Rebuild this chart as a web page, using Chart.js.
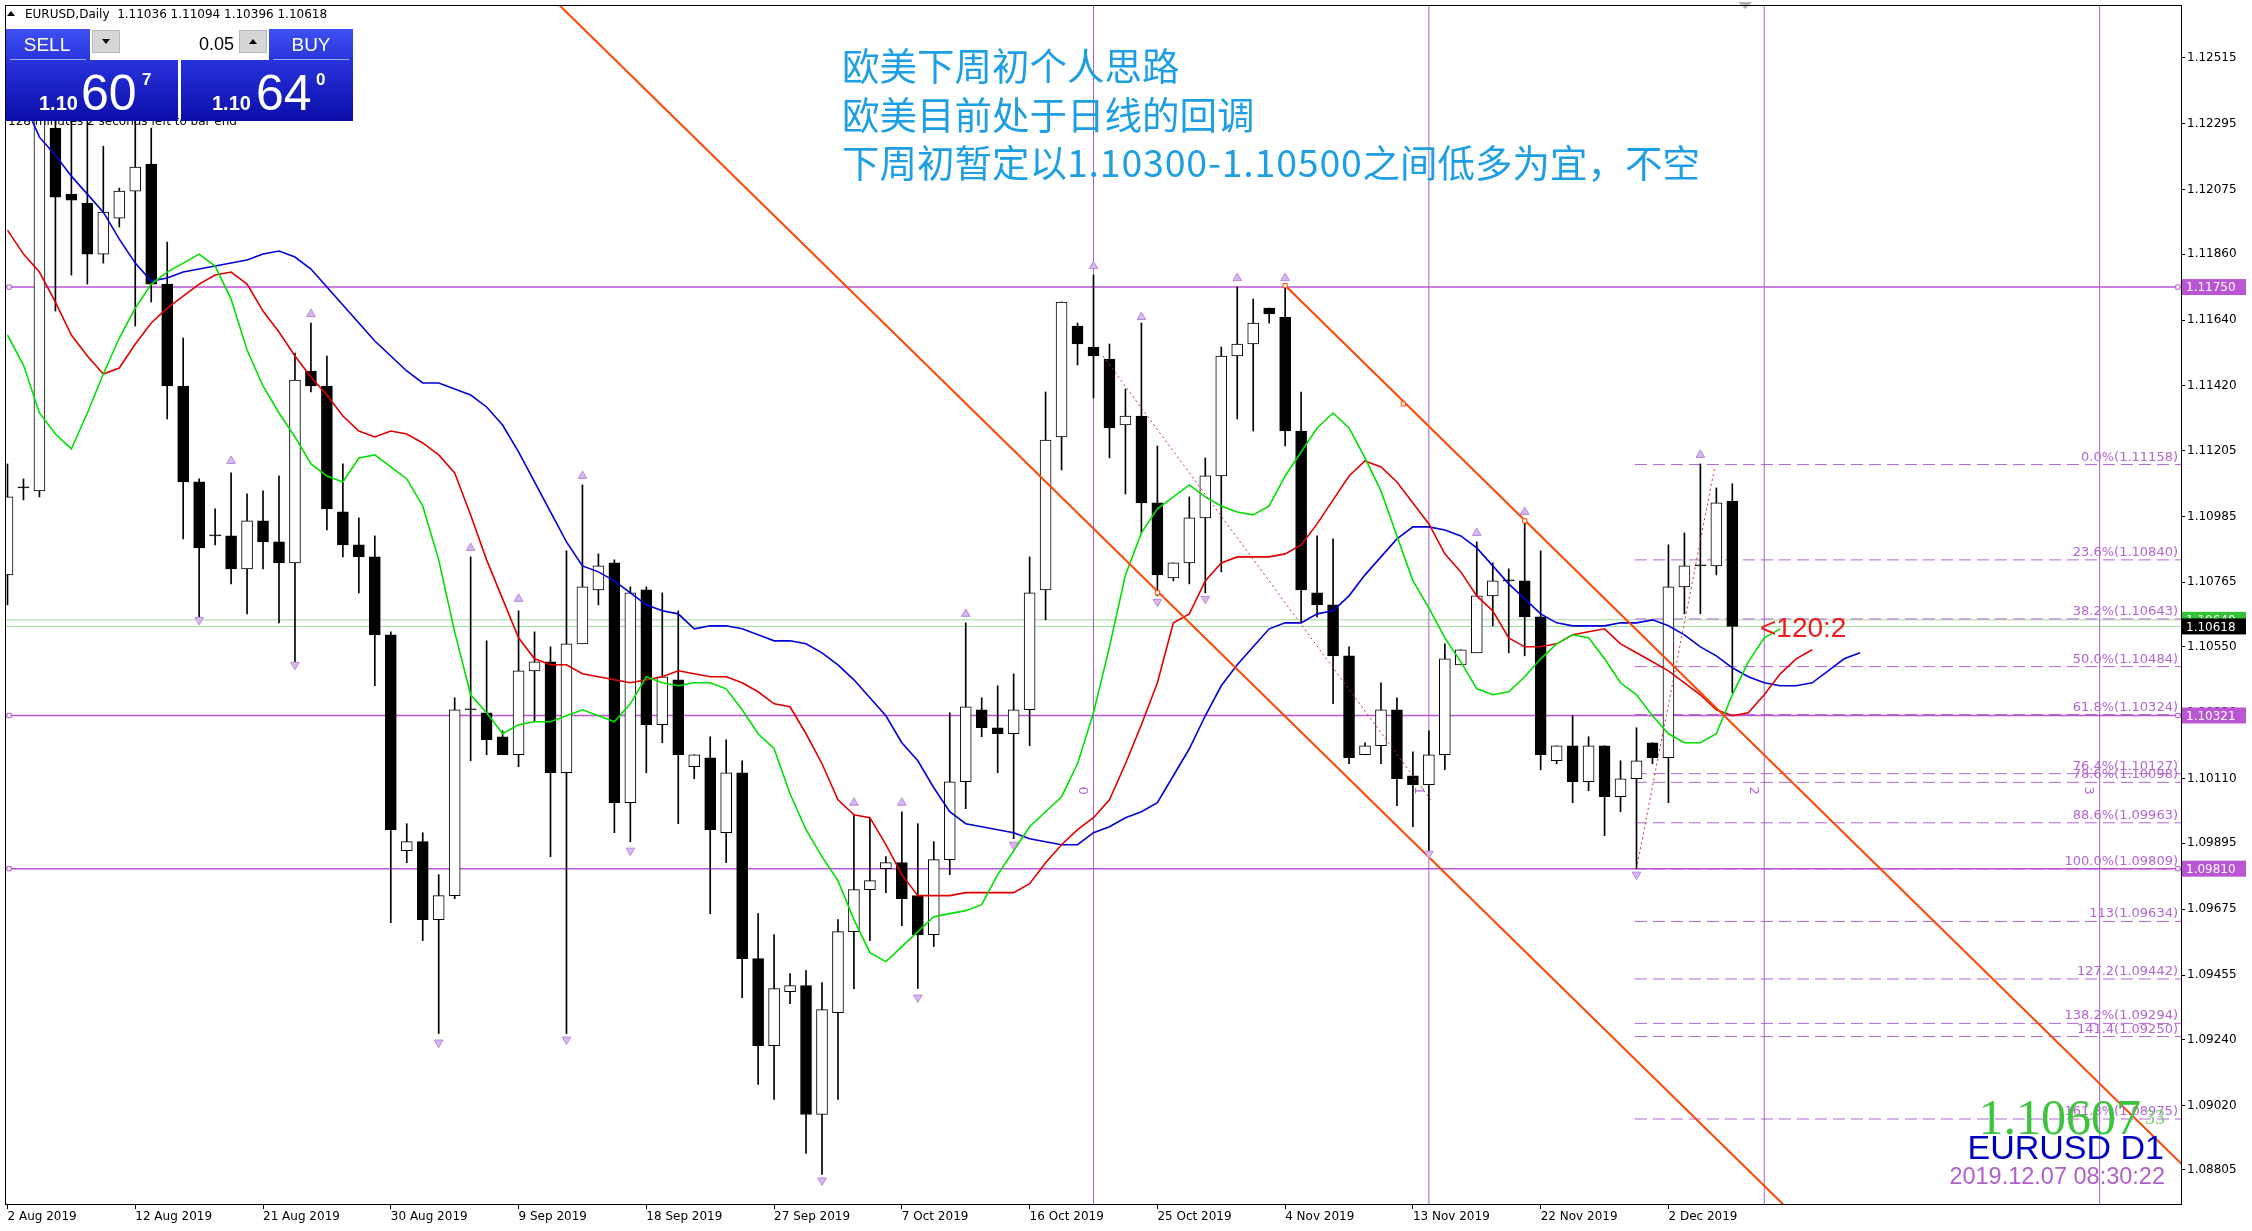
<!DOCTYPE html>
<html>
<head>
<meta charset="utf-8">
<script src="https://cdn.jsdelivr.net/npm/chart.js@4.4.0/dist/chart.umd.min.js"></script>
<style>
  html, body { margin: 0; padding: 0; background: #fff; overflow: hidden; }
  #wrap { width: 2252px; height: 1231px; }
</style>
</head>
<body>
<div id="wrap"><canvas id="chart" width="2252" height="1231"></canvas></div>
<script>
// ---- data (bar index 0 = 2 Aug 2019, incl. Sunday bars) ----
const X_TICKS = [0, 8, 16, 24, 32, 40, 48, 56, 64, 72, 80, 88, 96, 104];
const X_LABELS = ['2 Aug 2019', '12 Aug 2019', '21 Aug 2019', '30 Aug 2019', '9 Sep 2019', '18 Sep 2019',
  '27 Sep 2019', '7 Oct 2019', '16 Oct 2019', '25 Oct 2019', '4 Nov 2019', '13 Nov 2019', '22 Nov 2019', '2 Dec 2019'];
const Y_TICKS = [1.12515, 1.12295, 1.12075, 1.11860, 1.11640, 1.11420, 1.11205, 1.10985, 1.10765, 1.10550,
  1.10330, 1.10110, 1.09895, 1.09675, 1.09455, 1.09240, 1.09020, 1.08805];

const OPEN = [
  1.1079, 1.1108, 1.1107, 1.1228, 1.1206, 1.1203, 1.1186, 1.1198, 1.1207, 1.1216,
  1.1176, 1.1142, 1.1110, 1.1092, 1.1092, 1.1081, 1.1097, 1.1090, 1.1083, 1.1147,
  1.1142, 1.1100, 1.1089, 1.1085, 1.1059, 1.0987, 1.0990, 1.0964, 1.0972, 1.1034,
  1.1033, 1.1025, 1.1019, 1.1047, 1.1050, 1.1013, 1.1056, 1.1074, 1.1083, 1.1003,
  1.1074, 1.1029, 1.1044, 1.1015, 1.1018, 1.0993, 1.1013, 1.0951, 1.0922, 1.0940,
  1.0942, 1.0899, 1.0933, 1.0960, 1.0974, 1.0981, 1.0983, 1.0972, 1.0959, 1.0984,
  1.1010, 1.1034, 1.1028, 1.1026, 1.1034, 1.1074, 1.1125, 1.1162, 1.1155, 1.1151,
  1.1129, 1.1132, 1.1103, 1.1078, 1.1083, 1.1098, 1.1112, 1.1152, 1.1156, 1.1168,
  1.1165, 1.1127, 1.1073, 1.1069, 1.1052, 1.1019, 1.1022, 1.1034, 1.1012, 1.1009,
  1.1019, 1.1049, 1.1053, 1.1072, 1.1077, 1.1077, 1.1065, 1.1017, 1.1022, 1.1010,
  1.1022, 1.1005, 1.1011, 1.1023, 1.1018, 1.1075, 1.1082, 1.1082, 1.11036
];
const HIGH = [
  1.1116, 1.1111, 1.1250, 1.1245, 1.1240, 1.1232, 1.1222, 1.1208, 1.1232, 1.1228,
  1.1190, 1.1158, 1.1111, 1.1101, 1.1113, 1.1106, 1.1107, 1.1112, 1.1153, 1.1163,
  1.1152, 1.1116, 1.1098, 1.1092, 1.1060, 1.0996, 1.0993, 1.0979, 1.1038, 1.1085,
  1.1057, 1.1027, 1.1067, 1.1060, 1.1055, 1.1087, 1.1109, 1.1086, 1.1084, 1.1075,
  1.1075, 1.1073, 1.1067, 1.1019, 1.1025, 1.1024, 1.1017, 1.0966, 1.0959, 1.0946,
  1.0947, 1.0943, 1.0964, 1.0999, 1.0998, 1.0985, 1.1000, 1.0996, 1.0990, 1.1033,
  1.1063, 1.1038, 1.1042, 1.1046, 1.1085, 1.1140, 1.1170, 1.1163, 1.1179, 1.1156,
  1.1141, 1.1163, 1.1122, 1.1083, 1.1105, 1.1118, 1.1155, 1.1175, 1.1171, 1.1168,
  1.1176, 1.1140, 1.1092, 1.1091, 1.1055, 1.1023, 1.1043, 1.1038, 1.1020, 1.1027,
  1.1056, 1.1054, 1.1090, 1.1083, 1.1081, 1.1097, 1.1087, 1.1022, 1.1032, 1.1025,
  1.1022, 1.1017, 1.1028, 1.1023, 1.1089, 1.1093, 1.1116, 1.1108, 1.11094
];
const LOW = [
  1.1069, 1.1104, 1.1105, 1.1167, 1.1179, 1.1176, 1.1183, 1.1195, 1.1162, 1.1170,
  1.1131, 1.1091, 1.1063, 1.1089, 1.1076, 1.1066, 1.1081, 1.1063, 1.1050, 1.1140,
  1.1094, 1.1085, 1.1073, 1.1042, 1.0963, 1.0983, 1.0957, 1.0926, 1.0971, 1.1017,
  1.1019, 1.1019, 1.1015, 1.1030, 1.0985, 1.0926, 1.1056, 1.1069, 1.0993, 1.0990,
  1.1013, 1.1023, 1.0996, 1.1011, 1.0966, 1.0983, 1.0938, 1.0909, 1.0904, 1.0936,
  1.0886, 1.0879, 1.0904, 1.0941, 1.0957, 1.0973, 1.0962, 1.0941, 1.0955, 1.0979,
  1.1001, 1.1025, 1.1013, 1.0991, 1.1022, 1.1064, 1.1114, 1.1149, 1.1138, 1.1118,
  1.1106, 1.1093, 1.1072, 1.1077, 1.1076, 1.1073, 1.1080, 1.1131, 1.1127, 1.1163,
  1.1122, 1.1063, 1.1065, 1.1036, 1.1016, 1.1019, 1.1016, 1.1002, 1.0995, 1.0987,
  1.1014, 1.1049, 1.1053, 1.1062, 1.1053, 1.1052, 1.1014, 1.1016, 1.1003, 1.1007,
  1.0992, 1.1000, 1.0981, 1.1016, 1.1003, 1.1066, 1.1066, 1.1079, 1.10396
];
const CLOSE = [
  1.1105, 1.1108, 1.1232, 1.1205, 1.1204, 1.1186, 1.1200, 1.1207, 1.1215, 1.1176,
  1.1142, 1.1110, 1.1088, 1.1092, 1.1081, 1.1097, 1.1090, 1.1083, 1.1144, 1.1142,
  1.1101, 1.1089, 1.1085, 1.1059, 1.0994, 1.0990, 1.0964, 1.0972, 1.1034, 1.1034,
  1.1024, 1.1019, 1.1047, 1.1050, 1.1013, 1.1056, 1.1075, 1.1082, 1.1003, 1.1073,
  1.1029, 1.1045, 1.1019, 1.1019, 1.0994, 1.1013, 1.0951, 1.0922, 1.0941, 1.0942,
  1.0899, 1.0934, 1.0960, 1.0974, 1.0977, 1.0983, 1.0971, 1.0959, 1.0984, 1.1010,
  1.1035, 1.1028, 1.1026, 1.1034, 1.1073, 1.1124, 1.1170, 1.1156, 1.1152, 1.1128,
  1.1132, 1.1103, 1.1079, 1.1083, 1.1098, 1.1112, 1.1152, 1.1156, 1.1163, 1.1166,
  1.1127, 1.1074, 1.1069, 1.1052, 1.1018, 1.1022, 1.1034, 1.1011, 1.1009, 1.1019,
  1.1051, 1.1054, 1.1072, 1.1077, 1.1077, 1.1065, 1.1019, 1.1022, 1.1010, 1.1022,
  1.1005, 1.1011, 1.1017, 1.1018, 1.1075, 1.1082, 1.1082, 1.1103, 1.10618
];

// Alligator lines (already shifted forward: lips +3, teeth +5, jaw +8 bars)
const LIPS = [
  1.1159, 1.1149, 1.1133, 1.1126, 1.1121, 1.1133, 1.1146, 1.1158, 1.1168, 1.1176,
  1.1180, 1.1183, 1.1186, 1.1182, 1.1171, 1.1154, 1.1142, 1.1133, 1.1125, 1.1116,
  1.1112, 1.1110, 1.1118, 1.1119, 1.1115, 1.1111, 1.1102, 1.1084, 1.1060, 1.1039,
  1.1033, 1.1026, 1.1029, 1.1030, 1.1030, 1.1032, 1.1034, 1.1032, 1.1030, 1.1036,
  1.1045, 1.1043, 1.1042, 1.1043, 1.1043, 1.1041, 1.1034, 1.1026, 1.1021, 1.1006,
  1.0994, 1.0985, 1.0977, 1.0964, 1.0953, 1.0950, 1.0955, 1.0960, 1.0965, 1.0966,
  1.0967, 1.0969, 1.0979, 1.0987, 1.0995, 1.1000, 1.1005, 1.1016, 1.1033, 1.1055,
  1.1079, 1.1093, 1.1101, 1.1105, 1.1109, 1.1105, 1.1102, 1.1100, 1.1099, 1.1102,
  1.1112, 1.1120, 1.1128, 1.1133, 1.1128, 1.1118, 1.1107, 1.1092, 1.1077, 1.1068,
  1.1058, 1.1050, 1.1041, 1.1039, 1.1040, 1.1045, 1.1051, 1.1056, 1.1059, 1.1058,
  1.1051, 1.1043, 1.1039, 1.1032, 1.1026, 1.1023, 1.1023, 1.1026, 1.1039, 1.1050,
  1.1058, 1.1061
];
const TEETH = [
  1.1194, 1.1186, 1.1180, 1.1170, 1.1159, 1.1152, 1.1146, 1.1148, 1.1156, 1.1163,
  1.1168, 1.1172, 1.1176, 1.1179, 1.1180, 1.1176, 1.1167, 1.1160, 1.1152, 1.1145,
  1.1139, 1.1132, 1.1127, 1.1125, 1.1127, 1.1126, 1.1123, 1.1119, 1.1113, 1.1099,
  1.1084, 1.1071, 1.1058, 1.1051, 1.1049, 1.1049, 1.1046, 1.1045, 1.1044, 1.1043,
  1.1044, 1.1045, 1.1047, 1.1046, 1.1045, 1.1045, 1.1043, 1.1040, 1.1036, 1.1035,
  1.1026, 1.1016, 1.1004, 1.0999, 1.0998, 1.0989, 1.0979, 1.0972, 1.0972, 1.0972,
  1.0973, 1.0973, 1.0973, 1.0973, 1.0976, 1.0983, 1.0989, 1.0994, 1.0998, 1.1004,
  1.1016, 1.1029, 1.1043, 1.1063, 1.1066, 1.1077, 1.1083, 1.1085, 1.1085, 1.1085,
  1.1086, 1.1089, 1.1096, 1.1104, 1.1112, 1.1117, 1.1115, 1.1110, 1.1103, 1.1096,
  1.1086, 1.1080, 1.1072, 1.1067, 1.1058, 1.1055, 1.1055, 1.1056, 1.1059, 1.1060,
  1.1061, 1.1056, 1.1053, 1.1050, 1.1047, 1.1043, 1.1039, 1.1034, 1.1032, 1.1033,
  1.1039, 1.1046, 1.1051, 1.1054
];
const JAW = [
  1.1245, 1.1237, 1.1225, 1.1219, 1.1212, 1.1206, 1.1200, 1.1191, 1.1183, 1.1177,
  1.1178, 1.1180, 1.1181, 1.1182, 1.1183, 1.1184, 1.1186, 1.1187, 1.1185, 1.1181,
  1.1175, 1.1169, 1.1163, 1.1157, 1.1152, 1.1147, 1.1143, 1.1143, 1.1141, 1.1139,
  1.1135, 1.1129, 1.1120, 1.1110, 1.1100, 1.1090, 1.1082, 1.1080, 1.1077, 1.1073,
  1.1069, 1.1067, 1.1066, 1.1061, 1.1062, 1.1062, 1.1061, 1.1059, 1.1057, 1.1057,
  1.1056, 1.1053, 1.1049, 1.1044, 1.1038, 1.1032, 1.1023, 1.1017, 1.1008, 1.1000,
  1.0996, 1.0995, 1.0994, 1.0993, 1.0991, 1.0990, 1.0989, 1.0989, 1.0993, 1.0995,
  1.0998, 1.1000, 1.1003, 1.1012, 1.1021, 1.1032, 1.1042, 1.1049, 1.1055, 1.1061,
  1.1063, 1.1063, 1.1066, 1.1067, 1.1072, 1.1079, 1.1085, 1.1091, 1.1095, 1.1095,
  1.1094, 1.1092, 1.1088, 1.1082, 1.1076, 1.1071, 1.1066, 1.1063, 1.1062, 1.1062,
  1.1062, 1.1063, 1.1063, 1.1064, 1.1062, 1.1059, 1.1055, 1.1052, 1.1048, 1.1045,
  1.1043, 1.1042, 1.1042, 1.1043, 1.1047, 1.1051, 1.1053
];

// fractal arrows
const UP_IDX = [14, 19, 29, 32, 36, 53, 56, 60, 68, 71, 77, 80, 92, 95, 106];
const UP_Y = [1.1117, 1.1166, 1.1088, 1.1071, 1.1112, 1.1003, 1.1003, 1.1066, 1.1182, 1.1165, 1.1178, 1.1178, 1.1093, 1.1100, 1.1119];
const DOWN_IDX = [12, 18, 27, 35, 39, 51, 57, 63, 72, 75, 89, 102];
const DOWN_Y = [1.1064, 1.1049, 1.0923, 1.0924, 1.0987, 1.0877, 1.0938, 1.0989, 1.1070, 1.1071, 1.0986, 1.0979];

// drawn objects
const H_LEVELS = [1.11750, 1.10321, 1.09810];
const BID = 1.10618;
const ASK = 1.10640;
const V_LINES = [68, 89, 110, 131];
const V_LABELS = ['0', '1', '2', '3'];
const CHANNEL_A_X = [30, 140];
const CHANNEL_A_Y = [1.12928, 1.07186];
const CHANNEL_B_X = [80, 140];
const CHANNEL_B_Y = [1.11755, 1.08623];
const CHANNEL_MARK_X = [72, 80, 87.4, 95];
const CHANNEL_MARK_Y = [1.1073, 1.11755, 1.1136, 1.1097];
const DOT1_X = [68.6, 89.1];
const DOT1_Y = [1.1152, 1.1004];
const DOT2_X = [102, 106.9];
const DOT2_Y = [1.0981, 1.1115];
const FIB_START = 101.9;
const FIB_LEVELS = [1.11158, 1.10840, 1.10643, 1.10484, 1.10324, 1.10127, 1.10098, 1.09963, 1.09809, 1.09634, 1.09442, 1.09294, 1.09250, 1.08975];
const FIB_LABELS = ['0.0%(1.11158)', '23.6%(1.10840)', '38.2%(1.10643)', '50.0%(1.10484)', '61.8%(1.10324)', '76.4%(1.10127)',
  '78.6%(1.10098)', '88.6%(1.09963)', '100.0%(1.09809)', '113(1.09634)', '127.2(1.09442)', '138.2%(1.09294)', '141.4(1.09250)', '161.8%(1.08975)'];

// note text, split where the script changes (latin part is set a bit wider)
const NOTE_LINES = [['欧美下周初个人思路'], ['欧美目前处于日线的回调'], ['下周初暂定以', '1.10300-1.10500', '之间低多为宜，不空']];

const ORCHID = '#ba55d3';
const FIB_COLOR = '#b464d2';
const VLINE_COLOR = '#a562cc';

Chart.defaults.font.family = "'DejaVu Sans', sans-serif";
Chart.defaults.font.size = 12;
Chart.defaults.color = '#000';

function seg(xs, ys) {
  return xs.map((x, i) => ({ x: x, y: ys[i] }));
}
function lineSet(data, color, width, order, dash) {
  return { type: 'line', data: data, borderColor: color, borderWidth: width, borderDash: dash || [],
    pointRadius: 0, tension: 0, fill: false, order: order };
}

const datasets = [];
H_LEVELS.forEach(p => datasets.push(lineSet(seg([-1, 140], [p, p]), ORCHID, 1.5, 20)));
V_LINES.forEach(v => datasets.push(lineSet(seg([v, v], [1.08, 1.13]), VLINE_COLOR, 1, 20)));
FIB_LEVELS.forEach(p => datasets.push(lineSet(seg([FIB_START, 140], [p, p]), FIB_COLOR, 1, 20, [12, 6])));
datasets.push(lineSet(seg([-1, 140], [BID, BID]), '#9ddc9d', 1, 20));
datasets.push(lineSet(seg([-1, 140], [ASK, ASK]), '#9ddc9d', 1, 20));

// candles: wick + body
datasets.push({
  type: 'bar', order: 12, grouped: false, barThickness: 1, minBarLength: 1,
  data: LOW.map((l, i) => ({ x: i, y: [l, HIGH[i]] })),
  backgroundColor: '#000', borderWidth: 0
});
datasets.push({
  type: 'bar', order: 11, grouped: false, barThickness: 11, minBarLength: 1,
  data: OPEN.map((o, i) => ({ x: i, y: [o, CLOSE[i]] })),
  backgroundColor: OPEN.map((o, i) => CLOSE[i] > o ? '#ffffff' : '#000000'),
  borderColor: '#000', borderWidth: 1, borderSkipped: false
});

datasets.push(lineSet(JAW.map((v, i) => ({ x: i, y: v })), '#0000d8', 1.6, 8));
datasets.push(lineSet(TEETH.map((v, i) => ({ x: i, y: v })), '#e00000', 1.6, 7));
datasets.push(lineSet(LIPS.map((v, i) => ({ x: i, y: v })), '#00e000', 1.6, 6));

datasets.push(lineSet(seg(CHANNEL_A_X, CHANNEL_A_Y), '#ff4500', 2, 4));
datasets.push(lineSet(seg(CHANNEL_B_X, CHANNEL_B_Y), '#ff4500', 2, 4));
datasets.push(lineSet(seg(DOT1_X, DOT1_Y), '#c83030', 1, 4, [2, 3]));
datasets.push(lineSet(seg(DOT2_X, DOT2_Y), '#c83030', 1, 4, [2, 3]));
datasets.push({
  type: 'line', showLine: false, order: 3, data: seg(CHANNEL_MARK_X, CHANNEL_MARK_Y),
  pointStyle: 'rect', pointRadius: 3, pointBackgroundColor: '#fff', pointBorderColor: '#ff4500', pointBorderWidth: 1
});
datasets.push({
  type: 'line', showLine: false, order: 3,
  data: H_LEVELS.map(p => ({ x: 0.1, y: p })).concat(H_LEVELS.map(p => ({ x: 135.9, y: p }))),
  pointStyle: 'rect', pointRadius: 3, pointBackgroundColor: '#fff', pointBorderColor: ORCHID, pointBorderWidth: 1
});
datasets.push({
  type: 'line', showLine: false, order: 2, data: seg(UP_IDX, UP_Y),
  pointStyle: 'triangle', pointRadius: 5, pointBackgroundColor: '#d8b8ee', pointBorderColor: '#b98ad8', pointBorderWidth: 1
});
datasets.push({
  type: 'line', showLine: false, order: 2, data: seg(DOWN_IDX, DOWN_Y),
  pointStyle: 'triangle', rotation: 180, pointRadius: 5, pointBackgroundColor: '#d8b8ee', pointBorderColor: '#b98ad8', pointBorderWidth: 1
});

function priceBox(ctx, y, bg, fg, text) {
  ctx.fillStyle = bg;
  ctx.fillRect(2182, y - 8, 64, 16);
  ctx.fillStyle = fg;
  ctx.font = "12px 'DejaVu Sans'";
  ctx.textAlign = 'left';
  ctx.textBaseline = 'middle';
  ctx.fillText(text, 2186, y + 1);
}

function drawPanel(ctx) {
  const g = ctx.createLinearGradient(0, 29, 0, 121);
  g.addColorStop(0, '#3e50f2');
  g.addColorStop(0.4, '#2530d8');
  g.addColorStop(1, '#0b0da8');
  ctx.fillStyle = g;
  ctx.fillRect(6, 29, 172, 92);
  ctx.fillRect(181, 29, 172, 92);
  // separators under SELL / BUY
  ctx.strokeStyle = 'rgba(170,185,255,0.9)';
  ctx.lineWidth = 1;
  ctx.beginPath();
  ctx.moveTo(10, 59.5); ctx.lineTo(86, 59.5);
  ctx.moveTo(273, 59.5); ctx.lineTo(349, 59.5);
  ctx.stroke();
  // volume control
  ctx.fillStyle = '#fff';
  ctx.fillRect(90, 29, 179, 31);
  ctx.fillStyle = '#d6d6d6';
  ctx.fillRect(92, 30, 28, 23);
  ctx.fillRect(239, 30, 28, 23);
  ctx.strokeStyle = '#b8b8b8';
  ctx.strokeRect(92.5, 30.5, 27, 22);
  ctx.strokeRect(239.5, 30.5, 27, 22);
  ctx.fillStyle = '#000';
  ctx.beginPath();
  ctx.moveTo(102, 39); ctx.lineTo(110, 39); ctx.lineTo(106, 44); ctx.closePath(); ctx.fill();
  ctx.beginPath();
  ctx.moveTo(249, 44); ctx.lineTo(257, 44); ctx.lineTo(253, 39); ctx.closePath(); ctx.fill();
  ctx.font = "18px 'Liberation Sans'";
  ctx.textAlign = 'right';
  ctx.textBaseline = 'alphabetic';
  ctx.fillText('0.05', 234, 50);
  // labels
  ctx.fillStyle = '#fff';
  ctx.textAlign = 'center';
  ctx.font = "19px 'Liberation Sans'";
  ctx.fillText('SELL', 47, 51);
  ctx.fillText('BUY', 311, 51);
  // prices
  ctx.textAlign = 'left';
  ctx.font = "bold 20px 'Liberation Sans'";
  ctx.fillText('1.10', 39, 110);
  ctx.fillText('1.10', 212, 110);
  ctx.font = "50px 'Liberation Sans'";
  ctx.fillText('60', 81, 110);
  ctx.fillText('64', 256, 110);
  ctx.font = "bold 17px 'Liberation Sans'";
  ctx.fillText('7', 142, 85);
  ctx.fillText('0', 316, 85);
}

const overlay = {
  id: 'overlay',
  afterDraw(chart) {
    const ctx = chart.ctx;
    const ca = chart.chartArea;
    const xs = chart.scales.x, ys = chart.scales.y;
    ctx.save();

    // fib labels
    ctx.font = "13px 'DejaVu Sans'";
    ctx.fillStyle = FIB_COLOR;
    ctx.textAlign = 'right';
    ctx.textBaseline = 'alphabetic';
    FIB_LEVELS.forEach((p, i) => ctx.fillText(FIB_LABELS[i], ca.right - 3, ys.getPixelForValue(p) - 4));

    // cycle labels next to the vertical lines
    ctx.textAlign = 'center';
    ctx.textBaseline = 'middle';
    V_LINES.forEach((v, i) => {
      ctx.save();
      ctx.translate(xs.getPixelForValue(v) - 11, ys.getPixelForValue(1.1007));
      ctx.rotate(Math.PI / 2);
      ctx.fillText(V_LABELS[i], 0, 0);
      ctx.restore();
    });

    // chart shift marker
    const sx = xs.getPixelForValue(108.8);
    ctx.fillStyle = '#b0b0b0';
    ctx.beginPath();
    ctx.moveTo(sx - 7, 2); ctx.lineTo(sx + 7, 2); ctx.lineTo(sx, 9); ctx.closePath(); ctx.fill();

    // frame
    ctx.strokeStyle = '#000';
    ctx.lineWidth = 1;
    ctx.strokeRect(ca.left - 0.5, ca.top - 0.5, ca.right - ca.left + 1, ca.bottom - ca.top + 1);

    // price boxes on axis
    H_LEVELS.forEach(p => priceBox(ctx, ys.getPixelForValue(p), ORCHID, '#fff', p.toFixed(5)));
    priceBox(ctx, ys.getPixelForValue(ASK), '#33c433', '#fff', ASK.toFixed(5));
    priceBox(ctx, ys.getPixelForValue(BID), '#000', '#fff', BID.toFixed(5));

    // note text
    ctx.font = "37.5px 'Noto Sans CJK SC'";
    ctx.fillStyle = '#1f9fe3';
    ctx.textAlign = 'left';
    ctx.textBaseline = 'middle';
    NOTE_LINES.forEach((parts, i) => {
      let x = 842;
      parts.forEach(t => {
        const latin = /^[0-9.\-]+$/.test(t);
        ctx.letterSpacing = latin ? '0.8px' : '0px';
        ctx.fillText(t, x, 66 + i * 48.5);
        x += ctx.measureText(t).width;
      });
    });
    ctx.letterSpacing = '0px';

    ctx.font = "28px 'Liberation Sans'";
    ctx.fillStyle = '#ee1c1c';
    ctx.textBaseline = 'alphabetic';
    ctx.fillText('<120:2', 1760, 637);

    // bottom right info
    ctx.textAlign = 'right';
    ctx.font = "20px 'Liberation Serif'";
    ctx.fillStyle = '#74cf74';
    ctx.fillText('33', 2165, 1124);
    ctx.font = "50px 'Liberation Serif'";
    ctx.fillStyle = '#3cc43c';
    ctx.fillText('1.10607', 2141, 1134);
    ctx.font = "34px 'Liberation Sans'";
    ctx.fillStyle = '#0000c0';
    ctx.fillText('EURUSD D1', 2164, 1159);
    ctx.font = "23.5px 'Liberation Sans'";
    ctx.fillStyle = '#b060c8';
    ctx.fillText('2019.12.07 08:30:22', 2165, 1184);

    // header line
    ctx.fillStyle = '#000';
    ctx.textAlign = 'left';
    ctx.font = "12px 'DejaVu Sans'";
    ctx.fillText('128 minutes 2 seconds left to bar end', 8, 125);
    ctx.beginPath();
    ctx.moveTo(7, 16); ctx.lineTo(15, 16); ctx.lineTo(11, 11); ctx.closePath(); ctx.fill();
    ctx.fillText('EURUSD,Daily  1.11036 1.11094 1.10396 1.10618', 25, 18);

    drawPanel(ctx);
    ctx.restore();
  }
};

new Chart(document.getElementById('chart'), {
  type: 'bar',
  data: { datasets: datasets },
  options: {
    responsive: false,
    animation: false,
    devicePixelRatio: 1,
    layout: { padding: { left: 2, top: 2, right: 0, bottom: 0 } },
    plugins: { legend: { display: false }, tooltip: { enabled: false } },
    scales: {
      x: {
        type: 'linear', position: 'bottom', offset: false,
        min: -0.09375, max: 136.09375,
        grid: { display: true, drawOnChartArea: false, drawTicks: true, tickLength: 5, color: '#000', offset: false },
        border: { display: false },
        afterBuildTicks: s => { s.ticks = X_TICKS.map(v => ({ value: v })); },
        ticks: {
          autoSkip: false, maxRotation: 0, minRotation: 0, align: 'start', padding: 1,
          font: { size: 12 }, color: '#000',
          callback: v => X_LABELS[X_TICKS.indexOf(v)]
        },
        afterFit: s => { s.height = 27; s.paddingLeft = 0; s.paddingRight = 0; }
      },
      y: {
        type: 'linear', position: 'right',
        min: 1.086915, max: 1.126875,
        grid: { display: true, drawOnChartArea: false, drawTicks: true, tickLength: 4, color: '#000' },
        border: { display: false },
        afterBuildTicks: s => { s.ticks = Y_TICKS.map(v => ({ value: v })); },
        ticks: { autoSkip: false, padding: 2, font: { size: 12 }, color: '#000', callback: v => v.toFixed(5) },
        afterFit: s => { s.width = 71; s.paddingTop = 0; s.paddingBottom = 0; }
      }
    }
  },
  plugins: [overlay]
});
</script>
</body>
</html>
